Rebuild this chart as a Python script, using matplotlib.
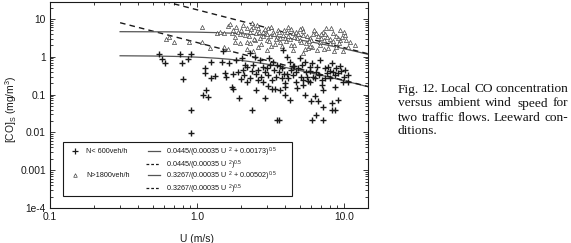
import matplotlib
matplotlib.use("Agg")
import matplotlib.pyplot as plt
import numpy as np
from matplotlib.lines import Line2D
from matplotlib.patches import Rectangle
from matplotlib.ticker import FixedLocator, FixedFormatter, LogLocator, NullFormatter

plt.rcParams["font.family"] = ["Liberation Sans", "DejaVu Sans"]
plt.rcParams["mathtext.default"] = "regular"

# ---- data -----------------------------------------------------------------
# N < 600 veh/h  (plus markers)
u_low = [0.55, 0.58, 0.61, 0.77, 0.79, 0.91, 0.87, 0.80, 0.91, 0.91,
         1.13, 1.13, 1.25, 1.33, 1.15, 1.10, 1.19, 1.25, 1.50, 1.47,
         1.65, 1.55, 1.57, 1.75, 1.72, 1.77, 1.94, 1.84, 2.03, 2.12,
         2.06, 2.10, 2.18, 2.29, 2.36, 2.29, 2.48, 2.36, 2.53, 2.53,
         2.83, 2.90, 2.83, 2.90, 3.05, 3.22, 3.05, 3.22, 3.39, 3.50,
         3.60, 3.30, 3.50, 3.80, 3.60, 3.45, 3.80, 3.97, 3.67, 3.97,
         4.29, 3.85, 4.10, 4.30, 4.40, 4.50, 4.75, 5.10, 5.25, 5.40,
         5.55, 5.87, 5.87, 6.10, 6.45, 6.10, 6.45, 7.20, 6.35, 6.65,
         7.20, 7.05, 7.20, 7.10, 7.43, 7.70, 8.25, 8.50, 8.00, 8.70,
         8.25, 8.25, 8.70, 9.10, 9.90, 10.6, 10.6,
         5.0, 6.9, 9.4, 4.6, 5.4, 2.7, 3.1, 6.35, 9.1, 10.2, 4.1, 2.6,
         6.0, 8.7, 5.7,
         2.2, 2.4, 2.6, 2.75, 3.0, 3.15, 3.35, 3.7, 3.9, 4.2,
         4.5, 4.7, 4.9, 5.2, 5.6, 5.9, 6.2, 6.6, 6.8, 7.4,
         7.8, 8.1, 8.9, 9.6, 10.0, 1.9, 2.0, 4.0, 4.8, 5.3]
co_low = [1.15, 0.86, 0.67, 1.20, 0.70, 1.15, 0.86, 0.26, 0.039, 0.0096,
          0.50, 0.37, 0.28, 0.31, 0.13, 0.098, 0.088, 0.74, 1.38, 0.74,
          0.68, 0.38, 0.30, 0.35, 0.155, 0.14, 0.079, 0.82, 0.92, 0.61,
          0.45, 0.33, 0.22, 0.27, 0.039, 1.24, 1.0, 0.43, 0.35, 0.13,
          0.55, 0.40, 0.22, 0.079, 0.33, 0.24, 0.17, 0.14, 0.14, 0.021,
          0.021, 0.74, 0.61, 0.50, 0.40, 0.30, 0.27, 0.20, 0.13, 0.098,
          0.072, 1.51, 1.0, 0.74, 0.45, 0.33, 0.22, 0.30, 0.24, 0.098,
          0.40, 0.55, 0.22, 0.70, 0.40, 0.021, 0.029, 0.021, 0.090, 0.066,
          0.048, 0.18, 0.13, 0.24, 0.50, 0.37, 0.68, 0.40, 0.27, 0.33,
          0.060, 0.039, 0.039, 0.072, 0.22, 0.33, 0.22,
          0.93, 0.82, 0.57, 0.57, 0.72, 0.82, 0.92, 0.27, 0.37, 0.45, 0.36, 0.24,
          0.066, 0.16, 0.23,
          0.55, 0.62, 0.45, 0.30, 0.50, 0.62, 0.45, 0.58, 0.35, 0.28,
          0.58, 0.40, 0.50, 0.62, 0.30, 0.42, 0.30, 0.55, 0.33, 0.28,
          0.52, 0.42, 0.50, 0.42, 0.30, 0.40, 0.25, 0.16, 0.15, 0.18]

# N > 1800 veh/h  (open triangles)
u_high = [0.62, 0.65, 0.70, 0.89, 1.09, 1.08, 1.23, 1.36, 1.43, 1.53,
          1.63, 1.68, 1.53, 1.63, 1.72, 1.81, 1.91, 2.06, 2.18, 2.29,
          2.36, 2.42, 1.96, 2.18, 2.29, 2.53, 2.68, 2.83, 2.98, 3.05,
          3.30, 3.50, 3.67, 3.85, 4.10, 4.29, 4.50, 4.75, 5.02, 5.25,
          5.55, 5.87, 6.10, 6.45, 6.87, 7.20, 7.70, 8.03, 8.50, 8.90,
          9.40, 9.90, 10.2, 11.0, 11.9, 4.50, 5.25, 2.98, 2.42, 2.60,
          1.81, 2.12, 2.60, 2.75, 3.14, 3.39, 3.55, 3.80, 4.20, 4.40,
          4.80, 5.20, 5.70, 6.00, 6.60, 7.00, 7.80, 8.20, 9.10, 10.6,
          9.40, 7.60, 4.00, 2.95, 2.50,
          5.0, 7.0, 10.0, 8.6, 5.4,
          1.75, 1.85, 1.95, 2.0, 2.25, 2.35, 2.45, 2.55, 2.65, 2.8,
          2.9, 3.0, 3.1, 3.2, 3.35, 3.45, 3.6, 3.7, 3.9, 4.05,
          4.15, 4.35, 4.6, 4.9, 5.1, 5.3, 5.6, 5.8, 6.2, 6.3,
          6.7, 6.9, 7.3, 7.5, 8.0, 8.4, 8.8, 9.2, 9.7, 10.4,
          3.2, 4.6, 5.9, 7.3, 2.2]
co_high = [2.9, 3.4, 2.5, 2.4, 6.0, 2.5, 1.7, 4.2, 4.6, 4.2,
           6.5, 7.3, 1.85, 1.58, 4.2, 3.4, 4.6, 6.9, 5.7, 4.6,
           7.7, 6.2, 2.3, 2.5, 2.3, 4.2, 3.1, 4.6, 2.8, 5.7,
           4.6, 3.4, 2.5, 3.8, 4.6, 2.9, 4.2, 4.6, 2.8, 3.8,
           2.3, 3.1, 1.85, 4.2, 2.5, 4.6, 3.4, 2.3, 4.2, 1.85,
           2.8, 1.38, 3.8, 2.5, 2.05, 1.51, 1.24, 1.51, 1.38, 1.85,
           2.4, 3.8, 5.8, 2.2, 3.5, 2.2, 5.1, 1.9, 6.2, 2.05,
           3.2, 5.8, 1.7, 2.8, 1.5, 3.1, 1.7, 5.8, 3.1, 1.8,
           5.1, 5.8, 3.1, 4.2, 2.8,
           5.5, 4.0, 4.5, 1.4, 1.6,
           5.2, 6.0, 3.9, 5.0, 3.6, 5.3, 3.0, 6.8, 4.6, 3.6,
           5.3, 3.9, 2.6, 6.0, 4.0, 2.9, 4.4, 3.2, 5.0, 2.6,
           3.6, 5.4, 3.4, 4.1, 2.4, 4.8, 3.6, 2.6, 3.9, 5.0,
           3.5, 2.1, 2.8, 4.1, 3.0, 2.6, 3.6, 2.3, 3.3, 2.7,
           1.9, 2.0, 1.95, 1.6, 1.6]

# fit coefficients: C = a / (b U^2 + c)^0.5
fit_a = [0.0445, 0.3267]
fit_b = 0.00035
fit_c = [0.00173, 0.00502]
fit_u_range = (0.3, 15.0)

x_ticks = [0.1, 1.0, 10.0]
x_labels = ["0.1", "1.0", "10.0"]
y_ticks = [1e-4, 1e-3, 1e-2, 1e-1, 1, 10]
y_labels = ["1e-4", "0.001", "0.01", "0.1", "1", "10"]

legend_names = ["N< 600veh/h", "N>1800veh/h"]
fit_labels = [
    "0.0445/(0.00035 U $^{2}$ + 0.00173)$^{0.5}$",
    "0.0445/(0.00035 U $^{2}$)$^{0.5}$",
    "0.3267/(0.00035 U $^{2}$ + 0.00502)$^{0.5}$",
    "0.3267/(0.00035 U $^{2}$)$^{0.5}$",
]
caption = [("Fig. 12. Local CO concentration", True),
           ("versus ambient wind speed for", True),
           ("two traffic flows. Leeward con-", True),
           ("ditions.", False)]

# ---- figure ---------------------------------------------------------------
W, H = 571, 243
fig = plt.figure(figsize=(W / 100, H / 100), dpi=100)
ax = fig.add_axes([50 / W, 1 - 208 / H, 318 / W, 206 / H])
ax.set_xscale("log")
ax.set_yscale("log")
ax.set_xlim(0.1, 14.6)
ax.set_ylim(1e-4, 28)

ink = "#1a1a1a"
ax.plot(u_high, co_high, ls="none", marker="^", ms=3.0, mfc="white",
        mec="#444444", mew=0.5, zorder=3)
ax.plot(u_low, co_low, ls="none", marker="+", ms=4.8, mec=ink, mew=1.0, zorder=4)

u = np.geomspace(*fit_u_range, 200)
for a, c in zip(fit_a, fit_c):
    ax.plot(u, a / np.sqrt(fit_b * u ** 2 + c), "-", color="#555555", lw=0.9, zorder=2)
    ax.plot(u, a / np.sqrt(fit_b * u ** 2), "--", color=ink, lw=1.0,
            dashes=(4, 3), zorder=2)

ax.xaxis.set_major_locator(FixedLocator(x_ticks))
ax.xaxis.set_major_formatter(FixedFormatter(x_labels))
ax.yaxis.set_major_locator(FixedLocator(y_ticks))
ax.yaxis.set_major_formatter(FixedFormatter(y_labels))
ax.xaxis.set_minor_locator(LogLocator(base=10, subs=np.arange(2, 10)))
ax.yaxis.set_minor_locator(LogLocator(base=10, subs=np.arange(2, 10), numticks=20))
ax.xaxis.set_minor_formatter(NullFormatter())
ax.yaxis.set_minor_formatter(NullFormatter())
ax.tick_params(which="both", direction="in", top=True, right=True,
               labelsize=7.4, colors=ink, width=0.6, pad=3)
ax.tick_params(which="major", length=3.5)
ax.tick_params(which="minor", length=2)
for s in ax.spines.values():
    s.set_linewidth(0.8)
    s.set_color(ink)

ax.set_xlabel("U (m/s)", fontsize=7.4, color=ink)
ax.xaxis.set_label_coords(0.462, -0.125)
ax.set_ylabel("[CO]$_S$ (mg/m$^3$)", fontsize=7.4, color=ink)
ax.yaxis.set_label_coords(-0.098, 0.48)

# ---- hand-built legend box ------------------------------------------------
ax.add_patch(Rectangle((0.041, 0.060), 0.72, 0.262, transform=ax.transAxes,
                       fc="white", ec=ink, lw=0.8, zorder=5))
rows = [0.276, 0.215, 0.159, 0.098]
lkw = dict(transform=ax.transAxes, fontsize=5.2, color=ink, va="center", zorder=6)
for r, m, name in zip([rows[0], rows[2]], ["+", "^"], legend_names):
    if m == "+":
        ax.add_line(Line2D([0.079], [r], transform=ax.transAxes, marker="+", ms=4,
                           mec=ink, mew=0.9, ls="none", zorder=6))
    else:
        ax.add_line(Line2D([0.079], [r], transform=ax.transAxes, marker="^", ms=2.6,
                           mfc="white", mec="#444444", mew=0.5, ls="none", zorder=6))
    ax.text(0.113, r, name, **lkw)
for i, (r, lab) in enumerate(zip(rows, fit_labels)):
    if i % 2 == 0:
        ax.add_line(Line2D([0.308, 0.346], [r, r], transform=ax.transAxes,
                           color="#555555", lw=0.9, zorder=6))
    else:
        ax.add_line(Line2D([0.302, 0.346], [r, r], transform=ax.transAxes,
                           color=ink, lw=0.9, dashes=(2.2, 1.6), zorder=6))
    ax.text(0.365, r - 0.006, lab, **lkw)

# ---- justified caption ----------------------------------------------------
x0, x1 = 398 / W, 568 / W
renderer = fig.canvas.get_renderer()
ckw = dict(fontsize=9.6, family=["Liberation Serif", "DejaVu Serif"],
           color="#111111", va="baseline", ha="left")
for i, (line, full) in enumerate(caption):
    y = 1 - (92.5 + 14.0 * i) / H
    if not full:
        fig.text(x0, y, line, **ckw)
        continue
    words = line.split()
    texts = [fig.text(x0, y, w_, **ckw) for w_ in words]
    widths = [t.get_window_extent(renderer).width / W for t in texts]
    gap = (x1 - x0 - sum(widths)) / (len(words) - 1)
    x = x0
    for t, w_ in zip(texts, widths):
        t.set_x(x)
        x += w_ + gap

fig.savefig("out.png", dpi=100)
